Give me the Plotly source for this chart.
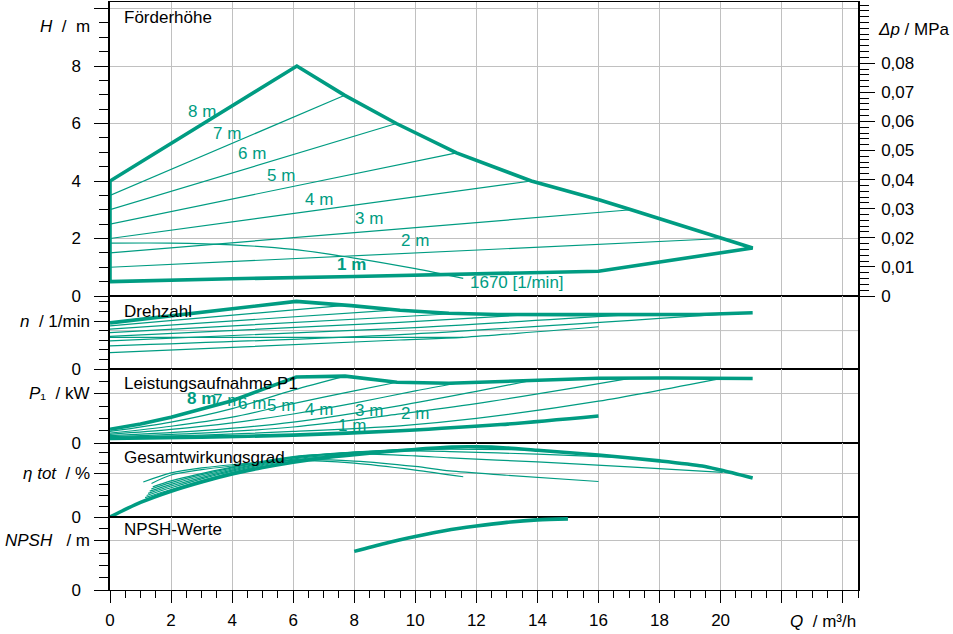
import plotly.graph_objects as go
from plotly.subplots import make_subplots

GREEN = "#009C82"
GRID = "#c0c0c0"
FONT = "Liberation Sans, Arial, sans-serif"
FS = 17

# ---------------- Förderhöhe (H / m) ----------------
q_h_env = [0, 0, 6.12, 7.69, 9.38, 11.35, 13.8, 16.04, 17.07, 20.07, 21.05, 16.0, 12.0, 8.0, 4.0, 0]
h_h_env = [0.5, 4.0, 8.0, 6.98, 6.0, 4.98, 4.0, 3.34, 3.0, 2.0, 1.67, 0.86, 0.76, 0.68, 0.6, 0.5]
q_h_7m = [0, 7.69];  h_h_7m = [3.5, 6.98]
q_h_6m = [0, 9.38];  h_h_6m = [3.0, 6.0]
q_h_5m = [0, 11.35]; h_h_5m = [2.5, 4.98]
q_h_4m = [0, 13.8];  h_h_4m = [2.0, 4.0]
q_h_3m = [0, 17.07]; h_h_3m = [1.5, 3.0]
q_h_2m = [0, 20.07]; h_h_2m = [1.0, 2.0]
q_h_1670 = [0, 2, 4, 6, 8, 10, 11.57]
h_h_1670 = [1.84, 1.84, 1.78, 1.62, 1.32, 0.95, 0.61]

# ---------------- Drehzahl (n / 1/min) ----------------
q_n_max = [0, 6.1, 7.9, 9.5, 11.1, 12.7, 15, 19.3, 21.05]
n_n_max = [2400, 3520, 3300, 3060, 2900, 2840, 2830, 2840, 2930]
q_n_7m = [0, 7.7];            n_n_7m = [2245, 3310]
q_n_6m = [0, 9.4];            n_n_6m = [2078, 3075]
q_n_5m = [0, 9.49, 11.35];    n_n_5m = [1897, 2720, 2890]
q_n_4m = [0, 9.49, 13.8];     n_n_4m = [1697, 2430, 2835]
q_n_3m = [0, 9.49, 17.07];    n_n_3m = [1470, 2120, 2830]
q_n_2m = [0, 9.49, 20.07];    n_n_2m = [1200, 1790, 2860]
q_n_1m = [0, 9.49, 11.57, 16]; n_n_1m = [849, 1510, 1650, 2200]
q_n_1670 = [0, 11.57];        n_n_1670 = [1650, 1650]

# ---------------- Leistungsaufnahme P1 (kW) ----------------
q_p_max = [0, 1, 2, 3, 4, 5, 6.1, 7.7, 9.4, 11.1, 13.8, 16, 18.2, 21.05]
p_p_max = [0.056, 0.077, 0.105, 0.137, 0.172, 0.218, 0.268, 0.272, 0.247, 0.243, 0.254, 0.263, 0.264, 0.262]
q_p_7m = [0, 2, 4, 6, 7.7];              p_p_7m = [0.047, 0.085, 0.140, 0.215, 0.272]
q_p_6m = [0, 2, 4, 6, 8, 9.4];           p_p_6m = [0.040, 0.068, 0.105, 0.160, 0.212, 0.247]
q_p_5m = [0, 2, 4, 6, 8, 10, 11.35];     p_p_5m = [0.035, 0.055, 0.082, 0.118, 0.162, 0.212, 0.243]
q_p_4m = [0, 3, 6, 9.5, 12, 13.8];       p_p_4m = [0.030, 0.050, 0.085, 0.152, 0.210, 0.254]
q_p_3m = [0, 3, 6, 9.5, 12, 15, 17.07];  p_p_3m = [0.026, 0.040, 0.065, 0.118, 0.160, 0.220, 0.264]
q_p_2m = [0, 3, 6, 9.5, 12, 16, 20.07];  p_p_2m = [0.022, 0.032, 0.047, 0.070, 0.100, 0.170, 0.264]
q_p_1m = [0, 3, 6, 9.5, 12.8, 16];       p_p_1m = [0.019, 0.024, 0.032, 0.050, 0.075, 0.110]

# ---------------- Gesamtwirkungsgrad (eta / %) ----------------
q_e_max = [0, 0.5, 1, 2, 3, 4, 5, 6, 7, 8, 9, 10, 11.2, 12, 13, 14, 16, 18, 19.4, 20, 21.05]
e_e_max = [0, 3.5, 6.8, 12, 16.3, 20, 23, 25.5, 27.5, 29, 30.3, 31.4, 32.5, 32.6, 32.1, 31, 28.8, 26.1, 23.7, 21.8, 18.1]
q_e_7m = [1.15, 2, 4, 6, 7.7];                         e_e_7m = [9.0, 12.8, 20.8, 26.5, 28.7]
q_e_6m = [1.2, 2, 4, 6, 8, 9.4];                       e_e_6m = [10.0, 13.6, 21.3, 26.9, 29.6, 30.8]
q_e_5m = [1.25, 2, 4, 6, 8, 10, 11.35];                e_e_5m = [11.0, 14.4, 21.8, 27.3, 30.0, 31.6, 32.5]
q_e_4m = [1.3, 2, 4, 6, 8, 10, 11.13, 13.8];           e_e_4m = [12.0, 15.2, 22.3, 27.6, 30.2, 31.5, 31.5, 31.2]
q_e_3m = [1.35, 2, 4, 6, 8, 10, 11.13, 14, 17.07];     e_e_3m = [13.0, 16.0, 22.8, 27.9, 30.2, 30.7, 30.4, 29.2, 27.5]
q_e_2m = [1.4, 2, 4, 6, 8, 10, 11.13, 14, 17, 20.07];  e_e_2m = [14.0, 16.8, 23.2, 28.1, 29.3, 28.4, 27.5, 25.6, 23.3, 20.7]
q_e_1m = [1.36, 2, 3, 4, 6, 8, 10, 11.13, 13, 16];     e_e_1m = [15.6, 19.5, 22.0, 23.7, 26.5, 26.0, 23.5, 21.4, 19.4, 16.5]
q_e_1670 = [1.09, 2, 3, 4, 6, 8, 10, 11.57];           e_e_1670 = [16.3, 20.5, 22.8, 24.3, 26.3, 25.0, 21.8, 18.7]

# ---------------- NPSH (m) ----------------
q_npsh = [8, 9, 10, 11, 12, 13, 14, 15]
npsh = [1.57, 1.89, 2.17, 2.42, 2.6, 2.75, 2.85, 2.89]

# ---------------- text ----------------
label_q = [3.0, 3.82, 4.65, 5.6, 6.86, 8.48, 9.98, 7.92]
label_txt = ["8 m", "7 m", "6 m", "5 m", "4 m", "3 m", "2 m", "1 m"]
label_h = [6.43, 5.66, 4.94, 4.18, 3.37, 2.68, 1.92, 1.08]
label_p = [0.179, 0.174, 0.161, 0.152, 0.138, 0.132, 0.118, 0.071]

x_ticks = [0, 2, 4, 6, 8, 10, 12, 14, 16, 18, 20, 22, 24]
x_ticktext = ["0", "2", "4", "6", "8", "10", "12", "14", "16", "18", "20", "", ""]
h_ticks = [0, 2, 4, 6, 8, 10]
h_ticktext = ["0", "2", "4", "6", "8", ""]
dp_ticks = [0, 0.01, 0.02, 0.03, 0.04, 0.05, 0.06, 0.07, 0.08]
dp_ticktext = ["0", "0,01", "0,02", "0,03", "0,04", "0,05", "0,06", "0,07", "0,08"]

fig = make_subplots(rows=5, cols=1, shared_xaxes=True, vertical_spacing=0,
                    row_heights=[294, 73, 74, 74, 73],
                    specs=[[{"secondary_y": True}], [{}], [{}], [{}], [{}]])


def add_line(q, v, row, width, shape="linear"):
    fig.add_trace(go.Scatter(x=q, y=v, mode="lines", hoverinfo="skip", showlegend=False,
                             line=dict(color=GREEN, width=width, shape=shape,
                                       smoothing=0.8 if shape == "spline" else None)),
                  row=row, col=1)


THIN = 1.2
THICK = 3.6

for q, h in [(q_h_7m, h_h_7m), (q_h_6m, h_h_6m), (q_h_5m, h_h_5m), (q_h_4m, h_h_4m),
             (q_h_3m, h_h_3m), (q_h_2m, h_h_2m)]:
    add_line(q, h, 1, THIN)
add_line(q_h_1670, h_h_1670, 1, THIN, "spline")
add_line(q_h_env, h_h_env, 1, THICK)
fig.add_trace(go.Scatter(x=[0], y=[0], mode="markers", marker=dict(opacity=0), hoverinfo="skip",
                         showlegend=False), row=1, col=1, secondary_y=True)

for q, n in [(q_n_7m, n_n_7m), (q_n_6m, n_n_6m), (q_n_5m, n_n_5m), (q_n_4m, n_n_4m),
             (q_n_3m, n_n_3m), (q_n_2m, n_n_2m), (q_n_1m, n_n_1m), (q_n_1670, n_n_1670)]:
    add_line(q, n, 2, THIN, "spline")
add_line(q_n_max, n_n_max, 2, THICK)

for q, p in [(q_p_7m, p_p_7m), (q_p_6m, p_p_6m), (q_p_5m, p_p_5m), (q_p_4m, p_p_4m),
             (q_p_3m, p_p_3m), (q_p_2m, p_p_2m)]:
    add_line(q, p, 3, THIN, "spline")
add_line(q_p_1m, p_p_1m, 3, THICK, "spline")
add_line(q_p_max, p_p_max, 3, THICK)

for q, e in [(q_e_7m, e_e_7m), (q_e_6m, e_e_6m), (q_e_5m, e_e_5m), (q_e_4m, e_e_4m),
             (q_e_3m, e_e_3m), (q_e_2m, e_e_2m), (q_e_1m, e_e_1m), (q_e_1670, e_e_1670)]:
    add_line(q, e, 4, THIN, "spline")
add_line(q_e_max, e_e_max, 4, THICK, "spline")

add_line(q_npsh, npsh, 5, THICK, "spline")

base_font = dict(family=FONT, size=FS, color="black")

fig.update_layout(width=953, height=634, margin=dict(l=110, r=95, t=2, b=44, autoexpand=False),
                  plot_bgcolor="white", paper_bgcolor="white", font=base_font,
                  showlegend=False)

fig.update_xaxes(range=[0, 24.5], domain=[0, 1], showgrid=True, gridcolor=GRID, gridwidth=1, dtick=2,
                 showline=True, linecolor="black", linewidth=1, mirror=True, zeroline=False)
fig.update_xaxes(tickmode="array", tickvals=x_ticks, ticktext=x_ticktext,
                 ticks="outside", ticklen=12, tickwidth=1, tickcolor="black",
                 showticklabels=True, tickfont=base_font, ticklabelstandoff=3,
                 minor=dict(dtick=0.5, ticks="outside", ticklen=7, tickcolor="black", tickwidth=1),
                 row=5, col=1)

fig.update_yaxes(showline=True, linecolor="black", linewidth=1.5, mirror=True, zeroline=False,
                 ticks="outside", ticklen=14, tickwidth=1, tickcolor="black", tickfont=base_font,
                 showgrid=True, gridcolor=GRID, gridwidth=1, ticklabelstandoff=10)

fig.update_yaxes(range=[0, 10.226], tickmode="array", tickvals=h_ticks, ticktext=h_ticktext,
                 minor=dict(dtick=0.5, ticks="outside", ticklen=9, tickcolor="black", tickwidth=1),
                 row=1, col=1, secondary_y=False)
fig.update_yaxes(range=[0, 0.10103], tickmode="array", tickvals=dp_ticks, ticktext=dp_ticktext,
                 showgrid=False, mirror=False, ticklen=15, ticklabelstandoff=3,
                 minor=dict(dtick=0.002, ticks="outside", ticklen=9, tickcolor="black", tickwidth=1),
                 row=1, col=1, secondary_y=True)
fig.update_yaxes(range=[0, 3802], tickmode="array", tickvals=[0, 2500], ticktext=["0", ""], showgrid=False,
                 minor=dict(dtick=500, ticks="outside", ticklen=9, tickcolor="black", tickwidth=1),
                 row=2, col=1)
fig.update_yaxes(range=[0, 0.3008], tickmode="array", tickvals=[0, 0.2], ticktext=["0", ""],
                 minor=dict(dtick=0.05, ticks="outside", ticklen=9, tickcolor="black", tickwidth=1),
                 row=3, col=1)
fig.update_yaxes(range=[0, 34.4], tickmode="array", tickvals=[0, 20], ticktext=["0", ""],
                 minor=dict(dtick=5, ticks="outside", ticklen=9, tickcolor="black", tickwidth=1),
                 row=4, col=1)
fig.update_yaxes(range=[0, 2.967], tickmode="array", tickvals=[0, 2], ticktext=["0", ""],
                 minor=dict(dtick=0.5, ticks="outside", ticklen=9, tickcolor="black", tickwidth=1),
                 row=5, col=1)

fig.add_shape(type="line", xref="x2 domain", x0=0, x1=1, yref="y3", y0=2000, y1=2000,
              line=dict(color=GRID, width=1), layer="below")

ann = []
NB = "\u00a0"
xl = -0.024
ann.append(dict(text="<i>H</i>" + NB * 2 + "/" + NB * 2 + "m", xref="paper", x=xl, yref="y", y=9.39,
                xanchor="right", yanchor="middle", showarrow=False, font=base_font))
ann.append(dict(text="<i>n</i>" + NB * 2 + "/" + NB + "1/min", xref="paper", x=xl, yref="y3", y=2500,
                xanchor="right", yanchor="middle", showarrow=False, font=base_font))
ann.append(dict(text="<i>P</i>\u2081" + NB * 2 + "/" + NB + "kW", xref="paper", x=xl, yref="y4", y=0.2,
                xanchor="right", yanchor="middle", showarrow=False, font=base_font))
ann.append(dict(text="<i>η" + NB + "tot</i>" + NB * 2 + "/" + NB + "%", xref="paper", x=xl, yref="y5", y=20,
                xanchor="right", yanchor="middle", showarrow=False, font=base_font))
ann.append(dict(text="<i>NPSH</i>" + NB * 3 + "/" + NB + "m", xref="paper", x=xl, yref="y6", y=2,
                xanchor="right", yanchor="middle", showarrow=False, font=base_font))
ann.append(dict(text="<i>Δp</i>" + NB + "/" + NB + "MPa", xref="paper", x=1.024, yref="y2", y=0.0917,
                xanchor="left", yanchor="middle", showarrow=False, font=base_font))
ann.append(dict(text="<i>Q</i>" + NB * 2 + "/" + NB + "m³/h", xref="x5", x=24.5, yref="paper", y=-0.054,
                xanchor="right", yanchor="middle", showarrow=False, font=base_font))

for txt, yref, yv in [("Förderhöhe", "y", 9.70), ("Drehzahl", "y3", 3020),
                      ("Leistungsaufnahme P1", "y4", 0.243), ("Gesamtwirkungsgrad", "y5", 27.6),
                      ("NPSH-Werte", "y6", 2.44)]:
    ann.append(dict(text=txt, xref="x", x=0.39, yref=yref, y=yv, xanchor="left", yanchor="middle",
                    showarrow=False, font=base_font))

gfont = dict(family=FONT, size=FS, color=GREEN)
for q, t, h, p in zip(label_q, label_txt, label_h, label_p):
    th = "<b>" + t + "</b>" if t == "1 m" else t
    tp = "<b>" + t + "</b>" if t == "8 m" else t
    ann.append(dict(text=th, xref="x", x=q, yref="y", y=h, xanchor="center", yanchor="middle",
                    showarrow=False, font=gfont))
    ann.append(dict(text=tp, xref="x", x=q, yref="y4", y=p, xanchor="center", yanchor="middle",
                    showarrow=False, font=gfont))
ann.append(dict(text="1670 [1/min]", xref="x", x=11.73, yref="y", y=0.46, xanchor="left",
                yanchor="middle", showarrow=False, font=gfont))

fig.update_layout(annotations=ann)
fig.write_html("out.html", config={"displayModeBar": False},
               post_script="document.body.style.margin='0px';")
